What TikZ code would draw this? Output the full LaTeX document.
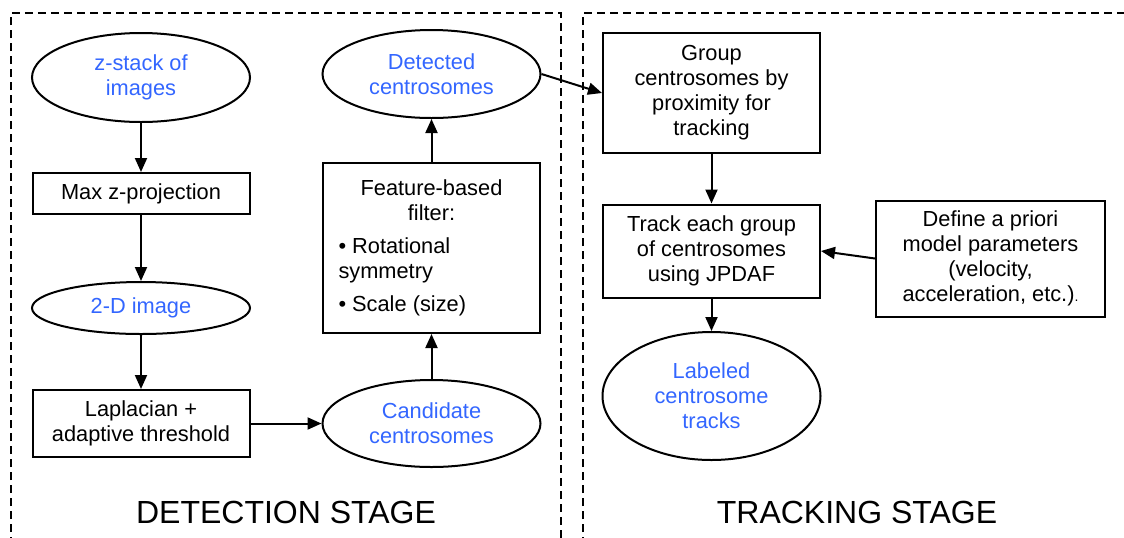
\documentclass[tikz,border=0pt]{standalone}
\usepackage{fontspec}
\setmainfont{Liberation Sans}
\usetikzlibrary{shapes.geometric,arrows.meta}
\definecolor{lblue}{RGB}{51,102,255}
\begin{document}
\begin{tikzpicture}[x=0.5pt,y=-0.5pt,font=\fontsize{10.9}{12.5}\selectfont,
 blk/.style={draw,line width=1pt,align=center,minimum width=108.5pt,inner sep=2pt},
 dat/.style={draw,ellipse,line width=1pt,align=center,text=lblue,inner sep=0pt,minimum width=109pt},
 flow/.style={-{Triangle[length=7pt,width=6pt]},line width=1pt},
 stage/.style={dash pattern=on 4pt off 2.5pt,line width=0.75pt},
 title/.style={anchor=base,font=\fontsize{16}{19}\selectfont}]
\useasboundingbox (0,0) rectangle (1124,537);
\draw[stage] (11,545) |- (561,13) -- (561,545);
\draw[stage] (583,545) |- (1130,13);
\node[dat,minimum height=44.5pt] (zstack) at (141,77.5) {z-stack of\\images};
\node[blk,minimum height=20.5pt] (maxp) at (141,193.5) {Max z-projection};
\node[dat,minimum height=26pt] (img) at (141,308) {2-D image};
\node[blk,minimum height=33.5pt] (lap) at (141,423.5) {Laplacian +\\adaptive threshold};
\node[dat,minimum height=43.5pt] (cand) at (431.5,423.5) {Candidate\\centrosomes};
\node[blk,minimum height=85pt] (filt) at (431.5,248) {Feature-based\\filter:\\[4pt]\parbox[t]{93pt}{\raggedright\textbullet\ Rotational\\symmetry\\[4pt]\textbullet\ Scale (size)}};
\node[dat,minimum height=44pt] (det) at (431.5,74) {Detected\\centrosomes};
\node[blk,minimum height=60pt] (grp) at (711.5,93) {Group\\centrosomes by\\proximity for\\tracking};
\node[blk,minimum height=46.5pt] (trk) at (711.5,251) {Track each group\\of centrosomes\\using JPDAF};
\node[dat,minimum height=64pt] (lab) at (711.5,396) {Labeled\\centrosome\\tracks};
\node[blk,minimum width=114.5pt,minimum height=58pt] (prior) at (990.5,258.5) {Define a priori\\model parameters\\(velocity,\\acceleration, etc.){\scriptsize .}};
\node[title] (dstage) at (286,523) {DETECTION STAGE};
\node[title] (tstage) at (857,523) {TRACKING STAGE};
\draw[flow] (zstack) -- (maxp);
\draw[flow] (maxp) -- (img);
\draw[flow] (img) -- (lap);
\draw[flow] (lap) -- (cand);
\draw[flow] (cand) -- (filt);
\draw[flow] (filt) -- (det);
\draw[flow] (det.east) -- (grp.west);
\draw[flow] (grp) -- (trk);
\draw[flow] (trk) -- (lab);
\draw[flow] (prior.west) -- (trk.east);
\end{tikzpicture}
\end{document}
